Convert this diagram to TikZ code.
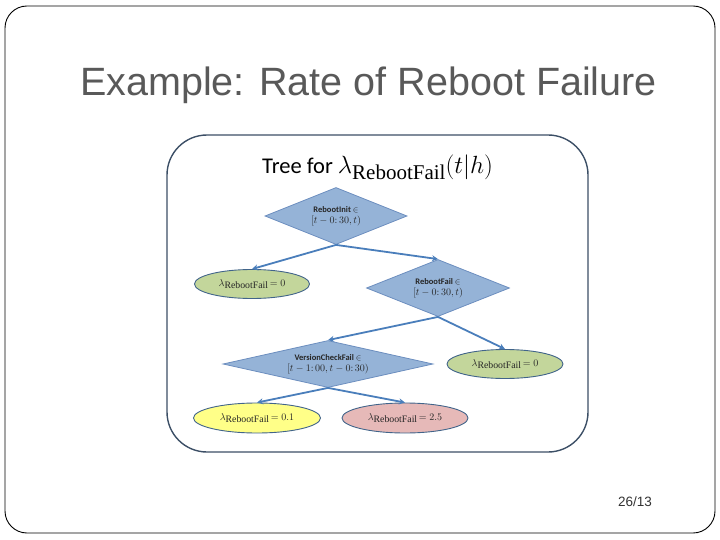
\documentclass[tikz,border=0pt]{standalone}
\usepackage{fontspec}
\setmainfont{Carlito}
\newfontfamily\arialfont{Liberation Sans}
\newfontfamily\subfont{Liberation Serif}
\usetikzlibrary{shapes.geometric,arrows.meta}
\definecolor{dfill}{HTML}{95B3D7}
\definecolor{ddraw}{HTML}{6C8EBF}
\definecolor{edraw}{HTML}{41648A}
\definecolor{gfill}{HTML}{C3D69B}
\definecolor{yfill}{HTML}{FFFF88}
\definecolor{pfill}{HTML}{E6B9B8}
\definecolor{arr}{HTML}{4A7EBB}
\definecolor{frame}{HTML}{3C4F66}
\definecolor{titlegray}{HTML}{595959}
\newcommand\lamRF[1]{$\lambda$\raisebox{-2.5pt}{\subfont\fontsize{9.8}{10}\selectfont RebootFail}\,$=#1$}
\tikzset{
  decision/.style={diamond, draw=ddraw, fill=dfill, line width=0.8pt, inner sep=0pt,
    align=center, font=\fontsize{8.5}{11}\selectfont, text=black!85},
  leaf/.style={ellipse, draw=edraw, line width=0.9pt, inner sep=0pt,
    minimum width=116pt, minimum height=29pt, font=\fontsize{10}{12}\selectfont, text=black!85},
  branch/.style={draw=arr, line width=1.8pt, -{Stealth[length=6pt,width=6pt]}}
}
\begin{document}
\begin{tikzpicture}[x=1pt,y=-1pt]
\useasboundingbox (0,0) rectangle (720,540);
\draw[black, line width=0.9pt, rounded corners=22pt] (5,6) rectangle (715,533);
\node[font=\arialfont\fontsize{39.5}{42}\selectfont, text=titlegray, anchor=base west, inner sep=0pt] (title) at (80,96) {Example: Rate of Reboot Failure};
\draw[frame, line width=1.4pt, rounded corners=40pt] (167,135) rectangle (588,452);
\node[font=\fontsize{22.5}{26}\selectfont, anchor=base west, inner sep=0pt] (tree) at (262,174)
  {Tree for {\fontsize{25}{26}\selectfont$\lambda$}\raisebox{-5.5pt}{\subfont\fontsize{21}{21}\selectfont RebootFail}{\fontsize{26}{28}\selectfont$(t|h)$}};

\node[decision, aspect=2.5, minimum width=142pt, minimum height=57pt] (d1) at (336,216)
  {\textbf{RebootInit} $\in$\\ {\fontsize{10}{11}\selectfont$[t-0{:}\,30, t)$}};
\node[decision, aspect=2.5, minimum width=143pt, minimum height=57pt] (d2) at (438,288)
  {\textbf{RebootFail} $\in$\\ {\fontsize{10}{11}\selectfont$[t-0{:}\,30, t)$}};
\node[decision, aspect=4.5, minimum width=210pt, minimum height=47pt] (d3) at (328,364)
  {\textbf{VersionCheckFail} $\in$\\ {\fontsize{10}{11}\selectfont$[t-1{:}\,00, t-0{:}\,30)$}};

\node[leaf, fill=gfill, minimum width=115pt] (e1) at (252,284) {\lamRF{0}};
\node[leaf, fill=gfill] (e2) at (505,364) {\lamRF{0}};
\node[leaf, fill=yfill, minimum width=127pt, minimum height=30pt] (e3) at (257,418) {\lamRF{0.1}};
\node[leaf, fill=pfill, minimum width=126pt, minimum height=30pt] (e4) at (405,418) {\lamRF{2.5}};

\draw[branch] (d1.south) -- (e1.north);
\draw[branch] (d1.south) -- (d2.north);
\draw[branch] (d2.south) -- (d3.north);
\draw[branch] (d2.south) -- (e2.north);
\draw[branch] (d3.south) -- (e3.north);
\draw[branch] (d3.south) -- (e4.north);

\node[font=\arialfont\fontsize{13.5}{15}\selectfont, text=black!80, anchor=base west, inner sep=0pt] (page) at (618,506) {26/13};
\end{tikzpicture}
\end{document}
